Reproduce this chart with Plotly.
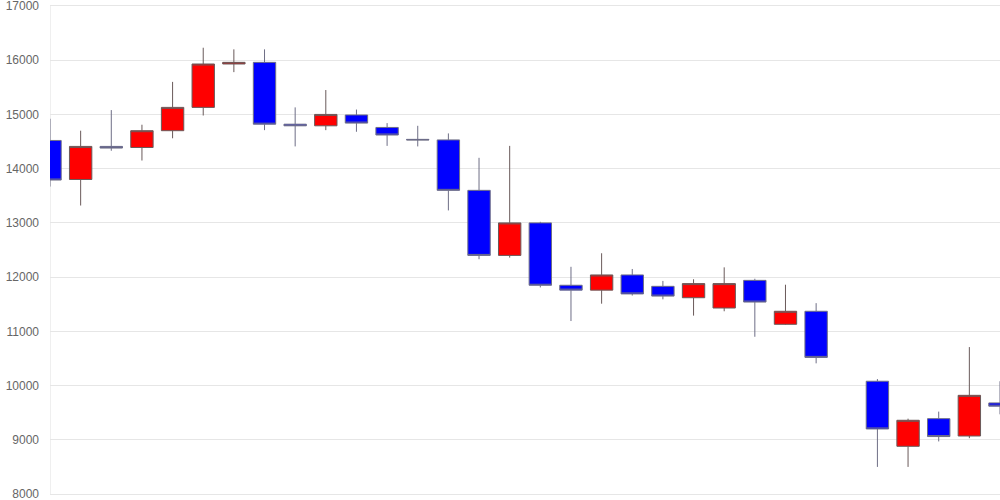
import plotly.graph_objects as go

# Candle positions (index 26 has no data)
idx = [0, 1, 2, 3, 4, 5, 6, 7, 8, 9, 10, 11, 12, 13, 14, 15, 16, 17, 18, 19,
       20, 21, 22, 23, 24, 25, 27, 28, 29, 30, 31]
opens = [14520, 13800, 14410, 14390, 14700, 15130, 15930, 15960, 14820, 14790,
         14990, 14760, 14540, 14530, 13600, 12400, 13000, 11850, 11760, 12040,
         11830, 11620, 11430, 11940, 11130, 11370, 10080, 8880, 9390, 9070, 9680]
highs = [14920, 14700, 15080, 14810, 15600, 16230, 16200, 16200, 15130, 15450,
         15090, 14840, 14790, 14650, 14200, 14420, 13020, 12190, 12440, 12150,
         11930, 11960, 12180, 11970, 11860, 11520, 10120, 9390, 9520, 10710, 10080]
lows = [13670, 13320, 14330, 14150, 14560, 14980, 15780, 14710, 14410, 14710,
        14680, 14420, 14410, 13230, 12330, 12360, 11810, 11190, 11510, 11660,
        11590, 11290, 11370, 10900, 11120, 10410, 8500, 8500, 8970, 9030, 9470]
closes = [13790, 14410, 14380, 14700, 15130, 15930, 15960, 14820, 14790, 15000,
          14840, 14620, 14530, 13600, 12400, 13000, 11850, 11760, 12040, 11690,
          11650, 11880, 11880, 11540, 11370, 10520, 9200, 9360, 9060, 9820, 9620]

y_ticks = [8000, 9000, 10000, 11000, 12000, 13000, 14000, 15000, 16000, 17000]
y_labels = [str(v) for v in y_ticks]

fig = go.Figure(go.Candlestick(
    x=idx, open=opens, high=highs, low=lows, close=closes,
    increasing=dict(fillcolor="#ff0000", line=dict(color="#6a5a5a", width=1)),
    decreasing=dict(fillcolor="#0000ff", line=dict(color="#6e6e86", width=1)),
    whiskerwidth=0,
    showlegend=False,
    hoverinfo="skip",
))

# thin left border line spanning the value range
fig.add_shape(type="line", xref="x", yref="y", x0=0, x1=0,
              y0=y_ticks[0], y1=y_ticks[-1],
              line=dict(color="#e0e0e0", width=1), layer="below")

fig.update_layout(
    width=1000, height=500,
    margin=dict(l=50, r=0, t=0, b=0),
    paper_bgcolor="white", plot_bgcolor="white",
    boxgap=0.27, boxgroupgap=0,
    font=dict(family="Liberation Sans, Arial, sans-serif", size=12, color="#666666"),
    xaxis=dict(range=[0, 31], showticklabels=False, showgrid=False, zeroline=False,
               rangeslider=dict(visible=False), fixedrange=True, showline=False,
               automargin=False),
    yaxis=dict(range=[7890, 17110], tickvals=y_ticks, ticktext=y_labels,
               showgrid=True, gridcolor="#e6e6e6", gridwidth=1, zeroline=False,
               showline=False, automargin=False, ticklabeloverflow="allow",
               fixedrange=True, ticks="", ticklabelstandoff=10,
               tickfont=dict(size=12, color="#666666")),
)

fig.write_html("out.html",
               config={"displayModeBar": False},
               post_script="document.body.style.margin='0';document.body.style.overflow='hidden';")
